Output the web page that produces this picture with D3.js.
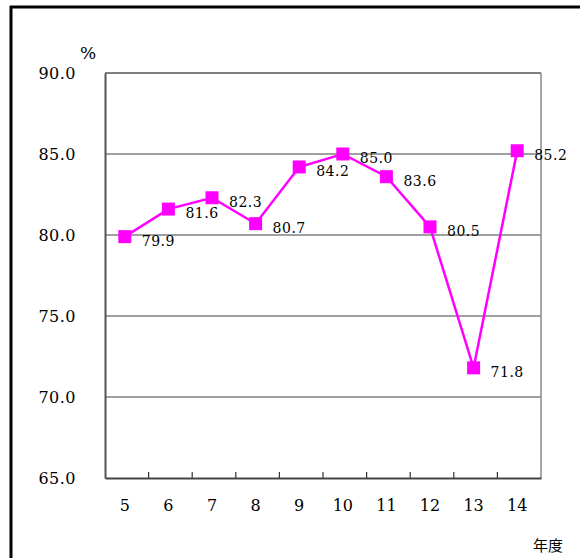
<!DOCTYPE html>
<html><head><meta charset="utf-8">
<script src="https://cdn.jsdelivr.net/npm/d3@7"></script>
<style>body{margin:0;background:#fff}svg{display:block}.sf{font-family:"DejaVu Serif","Liberation Serif",serif}</style>
</head><body>
<svg id="c" width="580" height="558"></svg>
<script>
const categories = ["5","6","7","8","9","10","11","12","13","14"];
const values = [79.9, 81.6, 82.3, 80.7, 84.2, 85.0, 83.6, 80.5, 71.8, 85.2];
const yTicks = [65, 70, 75, 80, 85, 90];
const yUnit = "%";
const xUnit = "年度";

const svg = d3.select("#c");
const L = 105, R = 541, T = 73, B = 478;

// outer frame
svg.append("line").attr("x1",11).attr("x2",11).attr("y1",6).attr("y2",558).attr("stroke","#000").attr("stroke-width",3);
svg.append("line").attr("x1",10).attr("x2",580).attr("y1",7).attr("y2",7).attr("stroke","#000").attr("stroke-width",3);

const x = d3.scaleBand().domain(categories).range([L, R]);
const y = d3.scaleLinear().domain([65, 90]).range([B, T]);

// gridlines
svg.append("g").selectAll("line").data(yTicks.filter(d => d > 65 && d < 90)).join("line")
  .attr("x1", L).attr("x2", R).attr("y1", d => y(d)).attr("y2", d => y(d))
  .attr("stroke", "#404040").attr("stroke-width", 1);

// plot frame top/right
svg.append("line").attr("x1",L).attr("x2",R).attr("y1",T).attr("y2",T).attr("stroke","#555").attr("stroke-width",1.5);
svg.append("line").attr("x1",R).attr("x2",R).attr("y1",T).attr("y2",B).attr("stroke","#888").attr("stroke-width",1.5);

// y axis
const yAxis = d3.axisLeft(y).tickValues(yTicks).tickSize(0).tickPadding(29).tickFormat(d3.format(".1f"));
const gy = svg.append("g").attr("transform", `translate(${L},0)`).call(yAxis);
gy.attr("font-family", null).attr("font-size", null).attr("class","sf");
gy.select(".domain").attr("stroke","#555").attr("stroke-width",2);
gy.selectAll("text").attr("font-size", 16).attr("fill","#000").attr("letter-spacing", 0.5);

// x axis
const xAxis = d3.axisBottom(x).tickSize(0).tickPadding(22);
const gx = svg.append("g").attr("transform", `translate(-2,${B})`).call(xAxis);
gx.attr("font-family", null).attr("font-size", null).attr("class","sf");
gx.select(".domain").attr("transform","translate(2,0)").attr("stroke","#444").attr("stroke-width",2);
gx.selectAll("text").attr("font-size", 16).attr("fill","#000");
// tick marks between categories
svg.append("g").selectAll("line").data(categories.slice(1)).join("line")
  .attr("x1", d => x(d)).attr("x2", d => x(d)).attr("y1", B - 6).attr("y2", B)
  .attr("stroke", "#333").attr("stroke-width", 1.2);

// units
svg.append("text").attr("class","sf").attr("x", 80).attr("y", 59).attr("font-size", 17).text(yUnit);
svg.append("text").attr("x", 533).attr("y", 551).attr("font-family", "'Noto Sans CJK JP',sans-serif").attr("font-size", 15).text(xUnit);

// line
const cx = d => x(d) + x.bandwidth() / 2 - 2;
const line = d3.line().x((d, i) => cx(categories[i])).y(d => y(d));
svg.append("path").datum(values).attr("d", line).attr("fill","none").attr("stroke","#FF00FF").attr("stroke-width",2.5);

// markers
svg.append("g").selectAll("rect").data(values).join("rect")
  .attr("x", (d, i) => cx(categories[i]) - 6.5).attr("y", d => y(d) - 6.5)
  .attr("width", 13).attr("height", 13).attr("fill", "#FF00FF");

// labels
svg.append("g").selectAll("text").data(values).join("text")
  .attr("class","sf")
  .attr("x", (d, i) => cx(categories[i]) + 17).attr("y", d => y(d) + 9)
  .attr("font-size", 14).attr("fill","#000").attr("letter-spacing", 0.5)
  .text(d => d3.format(".1f")(d));
</script>
</body></html>
